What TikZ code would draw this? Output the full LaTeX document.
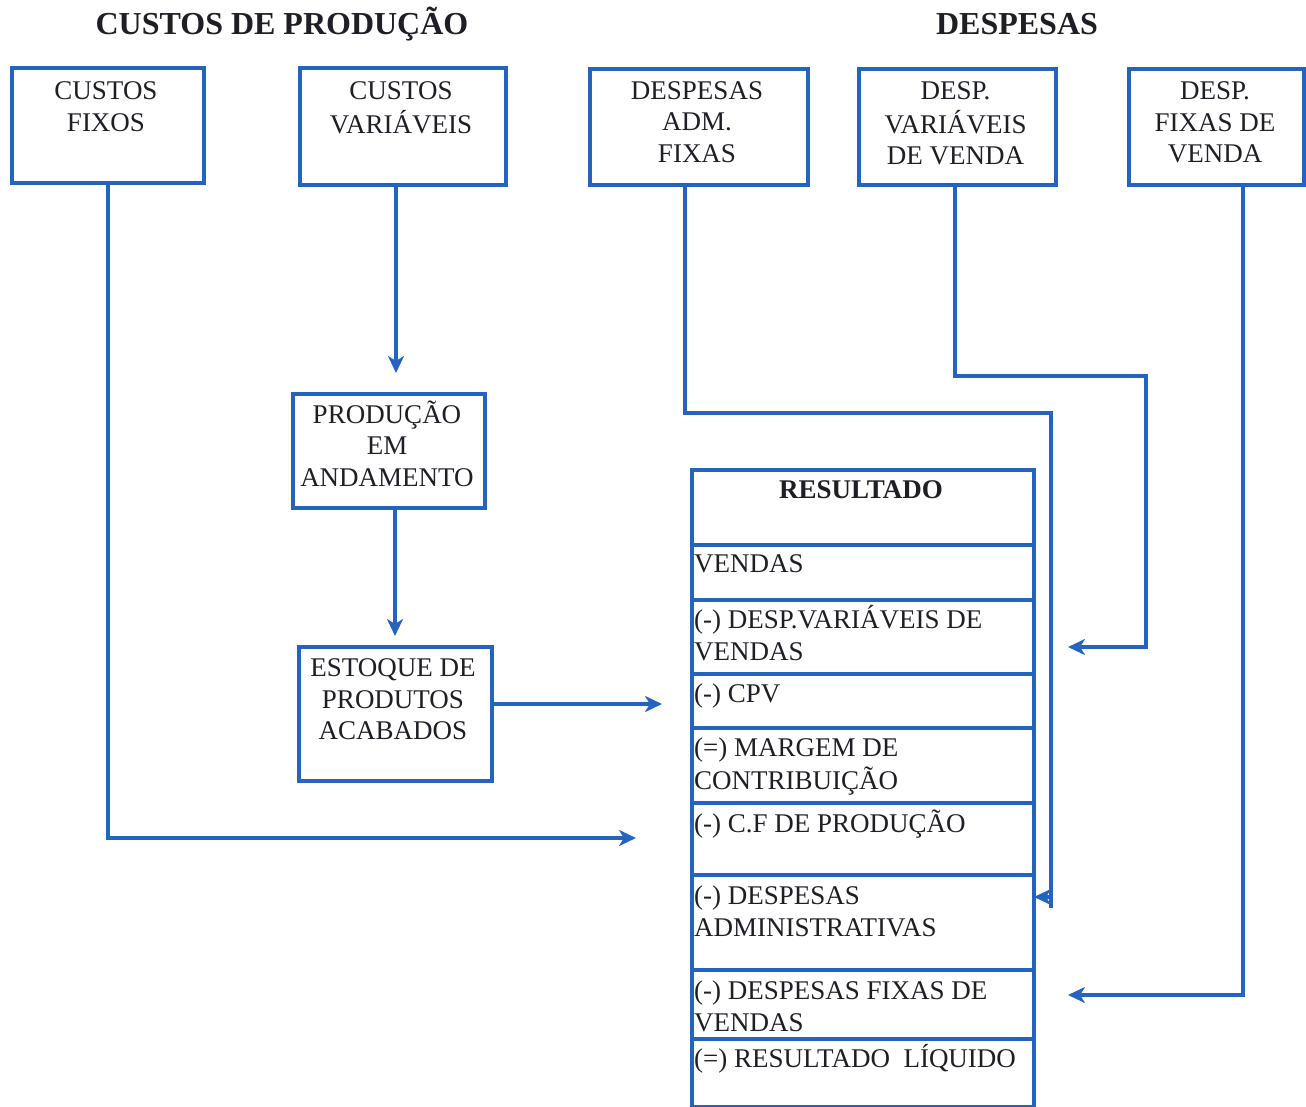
\documentclass[tikz,border=0pt]{standalone}
\usepackage{fontspec}
\setmainfont{Liberation Serif}
\usetikzlibrary{arrows.meta,calc}
\definecolor{lb}{RGB}{36,100,190}
\definecolor{tx}{RGB}{30,30,38}
\tikzset{
  boxn/.style={draw=lb, line width=4pt, rectangle, inner sep=0pt, anchor=north west},
  rown/.style={draw=lb, line width=4pt, rectangle, inner sep=0pt, anchor=north west, minimum width=342pt},
  txt/.style={text=tx, inner sep=0pt, align=center, anchor=north, font={\fontsize{27}{31.5}\selectfont}},
  rtxt/.style={text=tx, inner sep=0pt, align=left, anchor=north west, font={\fontsize{27}{31.5}\selectfont}},
  ttl/.style={text=tx, inner sep=0pt, anchor=base, font={\fontsize{32}{38}\selectfont\bfseries}},
  lne/.style={draw=lb, line width=3.6pt},
  conn/.style={lne, -{Stealth[length=17pt,width=16pt,inset=5pt]}}
}
\begin{document}
\begin{tikzpicture}[x=1pt,y=-1pt]
\useasboundingbox (0,0) rectangle (1306,1107);
% titles
\node[ttl] (t1) at (282,35) {CUSTOS DE PRODUÇÃO};
\node[ttl] (t2) at (1017,35) {DESPESAS};
% top boxes
\node[boxn, minimum width=192pt, minimum height=115pt] (cf) at (10,66) {};
\node[txt] (cft) at (106,77.6) {\strut CUSTOS\\FIXOS};
\node[boxn, minimum width=206pt, minimum height=117pt] (cv) at (298,66) {};
\node[txt] (cvt) at (401,77.6) {\strut CUSTOS\\VARIÁVEIS};
\node[boxn, minimum width=218pt, minimum height=116pt] (da) at (588,67) {};
\node[txt] (dat) at (697,77) {\strut DESPESAS\\ADM.\\FIXAS};
\node[boxn, minimum width=197pt, minimum height=116pt] (dv) at (857,67) {};
\node[txt] (dvt) at (955.5,77.6) {\strut DESP.\\VARIÁVEIS\\DE VENDA};
\node[boxn, minimum width=175pt, minimum height=116pt] (df) at (1127,67) {};
\node[txt] (dft) at (1215,77.6) {\strut DESP.\\FIXAS DE\\VENDA};
% middle boxes
\node[boxn, minimum width=192pt, minimum height=114pt] (pa) at (291,392) {};
\node[txt] (pat) at (387,400.6) {\strut PRODUÇÃO\\EM\\ANDAMENTO};
\node[boxn, minimum width=193pt, minimum height=134pt] (ep) at (297,645) {};
\node[txt] (ept) at (393,654.6) {\strut ESTOQUE DE\\PRODUTOS\\ACABADOS};
% resultado rows
\node[rown, minimum height=75pt] (r0) at (690,468) {};
\node[rown, minimum height=55pt] (r1) at (690,543) {};
\node[rown, minimum height=74pt] (r2) at (690,598) {};
\node[rown, minimum height=54pt] (r3) at (690,672) {};
\node[rown, minimum height=75pt] (r4) at (690,726) {};
\node[rown, minimum height=72pt] (r5) at (690,801) {};
\node[rown, minimum height=95pt] (r6) at (690,873) {};
\node[rown, minimum height=69pt] (r7) at (690,968) {};
\node[rown, minimum height=68pt] (r8) at (690,1037) {};
\node[txt, font={\fontsize{27}{31.5}\selectfont\bfseries}] (r0t) at (861,476.6) {\strut RESULTADO};
\node[rtxt] (r1t) at (694,550.6) {\strut VENDAS};
\node[rtxt] (r2t) at (694,605.6) {\strut (-) DESP.VARIÁVEIS DE\\VENDAS};
\node[rtxt] (r3t) at (694,680.6) {\strut (-) CPV};
\node[rtxt] (r4t) at (694,734.6) {\strut (=) MARGEM DE\\CONTRIBUIÇÃO};
\node[rtxt] (r5t) at (694,809.6) {\strut (-) C.F DE PRODUÇÃO};
\node[rtxt] (r6t) at (694,882.6) {\strut (-) DESPESAS\\ADMINISTRATIVAS};
\node[rtxt] (r7t) at (694,977.6) {\strut (-) DESPESAS FIXAS DE\\VENDAS};
\node[rtxt] (r8t) at (694,1044.6) {\strut (=) RESULTADO\ \ LÍQUIDO};
% connector coordinates
\coordinate (acf) at (636,838);
\coordinate (pin) at (396,373);
\coordinate (ein) at (395,636);
\coordinate (cin) at (662,704);
\coordinate (da1) at (685,413);
\coordinate (da2) at (1051,413);
\coordinate (da3) at (1051,897);
\coordinate (da4) at (1051,908);
\coordinate (dain) at (1034,897);
\coordinate (dv1) at (955,376);
\coordinate (dv2) at (1146,376);
\coordinate (dv3) at (1146,647);
\coordinate (dvin) at (1068,647);
\coordinate (df1) at (1243,995);
\coordinate (dfin) at (1068,995);
% connectors
\draw[conn] (cf.south) |- (acf);
\draw[conn] (cv.south -| pin) -- (pin);
\draw[conn] (pa.south -| ein) -- (ein);
\draw[conn] (ep.east |- cin) -- (cin);
\draw[lne] (da.south -| da1) -- (da1) -- (da2) -- (da4);
\draw[conn] (da3) -- (dain);
\draw[conn] (dv.south -| dv1) -- (dv1) -- (dv2) -- (dv3) -- (dvin);
\draw[conn] (df.south -| df1) -- (df1) -- (dfin);
\end{tikzpicture}
\end{document}
